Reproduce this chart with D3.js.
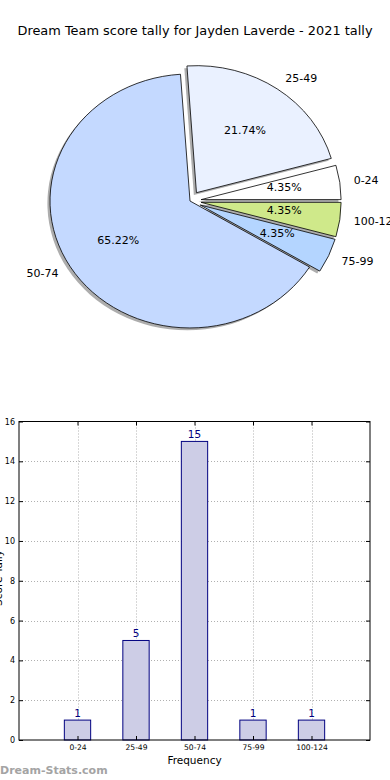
<!DOCTYPE html>
<html>
<head>
<meta charset="utf-8">
<script src="https://cdn.jsdelivr.net/npm/d3@7"></script>
<style>
  html, body { margin: 0; padding: 0; background: #fff; }
  svg { display: block; }
  text { font-family: "DejaVu Sans", sans-serif; }
</style>
</head>
<body>
<svg id="chart" width="390" height="780"></svg>
<script>
// ---------- data ----------
const titleText = "Dream Team score tally for Jayden Laverde - 2021 tally";
const pieLabels = ["0-24", "25-49", "50-74", "75-99", "100-124"];
const pieValues = [1, 5, 15, 1, 1];
const pieColors = ["#ffffff", "#eaf1ff", "#c4d9ff", "#b4d5ff", "#cfe98a"];
const pieExplode = [0.08, 0.08, 0, 0.08, 0.08];

const barCategories = ["0-24", "25-49", "50-74", "75-99", "100-124"];
const barValues = [1, 5, 15, 1, 1];
const yTicks = [0, 2, 4, 6, 8, 10, 12, 14, 16];
const xLabel = "Frequency";
const yLabel = "Score Tally";
const watermark = "Dream-Stats.com";

(function () {
const svg = d3.select("#chart");

svg.append("text")
  .attr("x", 195).attr("y", 35)
  .attr("text-anchor", "middle")
  .attr("font-size", 12.9)
  .attr("fill", "#000")
  .text(titleText);

// ---------- pie (elliptical, matplotlib style) ----------
const cx = 190, cy = 201, rx = 140, ry = 127;
const total = d3.sum(pieValues);
let cum = 0;
const slices = pieValues.map((v, i) => {
  const t0 = cum / total * 2 * Math.PI;
  cum += v;
  const t1 = cum / total * 2 * Math.PI;
  const mid = (t0 + t1) / 2;
  const e = pieExplode[i];
  return {
    i, v, t0, t1, mid,
    ox: cx + e * rx * Math.cos(mid),
    oy: cy - e * ry * Math.sin(mid)
  };
});

const arcGen = d3.arc().innerRadius(0).outerRadius(1);
function arcPath(s) {
  return arcGen({ startAngle: Math.PI / 2 - s.t1, endAngle: Math.PI / 2 - s.t0 });
}

const pieG = svg.append("g");
pieG.selectAll("path.shadow").data(slices).enter().append("path")
  .attr("class", "shadow")
  .attr("d", arcPath)
  .attr("transform", s => `translate(${s.ox - 2.6},${s.oy + 2.4}) scale(${rx},${ry})`)
  .attr("fill", "#6a6a6a")
  .attr("fill-opacity", 0.55)
  .attr("stroke", "none");
pieG.selectAll("path.wedge").data(slices).enter().append("path")
  .attr("class", "wedge")
  .attr("d", arcPath)
  .attr("transform", s => `translate(${s.ox},${s.oy}) scale(${rx},${ry})`)
  .attr("fill", s => pieColors[s.i])
  .attr("stroke", "#000")
  .attr("stroke-width", 0.8)
  .attr("vector-effect", "non-scaling-stroke")
  .attr("stroke-linejoin", "miter");

pieG.selectAll("text.lbl").data(slices).enter().append("text")
  .attr("class", "lbl")
  .attr("x", s => s.ox + 1.1 * rx * Math.cos(s.mid))
  .attr("y", s => s.oy - 1.1 * ry * Math.sin(s.mid))
  .attr("dy", "0.35em")
  .attr("text-anchor", s => Math.cos(s.mid) > 0 ? "start" : "end")
  .attr("font-size", 11)
  .text(s => pieLabels[s.i]);

pieG.selectAll("text.pct").data(slices).enter().append("text")
  .attr("class", "pct")
  .attr("x", s => s.ox + 0.6 * rx * Math.cos(s.mid))
  .attr("y", s => s.oy - 0.6 * ry * Math.sin(s.mid) - (pieExplode[s.i] > 0 && s.v < 2 ? 2.5 : 0))
  .attr("dy", "0.35em")
  .attr("text-anchor", "middle")
  .attr("font-size", 11)
  .text(s => (s.v / total * 100).toFixed(2) + "%");

// ---------- bar chart ----------
const pLeft = 19, pRight = 370, pTop = 421.5, pBottom = 740;
const x = d3.scaleLinear().domain([-1, barCategories.length]).range([pLeft, pRight]);
const y = d3.scaleLinear().domain([0, 16]).range([pBottom, pTop]);
const barW = 0.45;

const bg = svg.append("g");

bg.selectAll("line.gy").data(yTicks.filter(t => t > 0 && t < 16)).enter().append("line")
  .attr("x1", pLeft).attr("x2", pRight)
  .attr("y1", d => Math.round(y(d)) + 0.5).attr("y2", d => Math.round(y(d)) + 0.5)
  .attr("stroke", "#b0b0b0").attr("stroke-width", 1)
  .attr("stroke-dasharray", "1,2");
bg.selectAll("line.gx").data(barCategories).enter().append("line")
  .attr("x1", (d, i) => Math.round(x(i)) + 0.5).attr("x2", (d, i) => Math.round(x(i)) + 0.5)
  .attr("y1", pTop).attr("y2", pBottom)
  .attr("stroke", "#b0b0b0").attr("stroke-width", 1)
  .attr("stroke-dasharray", "1,2");

bg.selectAll("rect.bar").data(barValues).enter().append("rect")
  .attr("x", (d, i) => x(i - barW / 2))
  .attr("y", d => y(d))
  .attr("width", x(barW) - x(0))
  .attr("height", d => y(0) - y(d))
  .attr("fill", "#cdcde6")
  .attr("stroke", "#000080")
  .attr("stroke-width", 1);

bg.selectAll("text.val").data(barValues).enter().append("text")
  .attr("x", (d, i) => x(i))
  .attr("y", d => y(d) - 3.5)
  .attr("text-anchor", "middle")
  .attr("font-size", 10.5)
  .attr("fill", "#000080")
  .text(d => d);

const yAxis = d3.axisLeft(y).tickValues(yTicks).tickSize(-4).tickPadding(4)
  .tickFormat(d3.format("d"));
const yg = bg.append("g").attr("transform", `translate(${pLeft},0)`).call(yAxis);
yg.select(".domain").remove();
yg.selectAll("text").attr("font-size", 8).attr("font-family", "DejaVu Sans, sans-serif");
const yAxisR = d3.axisRight(y).tickValues(yTicks).tickSize(-4).tickFormat("");
const ygr = bg.append("g").attr("transform", `translate(${pRight},0)`).call(yAxisR);
ygr.select(".domain").remove();

const xAxis = d3.axisBottom(x).tickValues(d3.range(barCategories.length))
  .tickSize(-4).tickPadding(5).tickFormat(i => barCategories[i]);
const xg = bg.append("g").attr("transform", `translate(0,${pBottom})`).call(xAxis);
xg.select(".domain").remove();
xg.selectAll("text").attr("font-size", 7.6).attr("font-family", "DejaVu Sans, sans-serif");
const xAxisT = d3.axisTop(x).tickValues(d3.range(barCategories.length)).tickSize(-4).tickFormat("");
const xgt = bg.append("g").attr("transform", `translate(0,${pTop})`).call(xAxisT);
xgt.select(".domain").remove();

bg.append("rect")
  .attr("x", pLeft).attr("y", pTop)
  .attr("width", pRight - pLeft).attr("height", pBottom - pTop)
  .attr("fill", "none").attr("stroke", "#000").attr("stroke-width", 1);

bg.append("text")
  .attr("x", x((barCategories.length - 1) / 2)).attr("y", 764)
  .attr("text-anchor", "middle")
  .attr("font-size", 10.5)
  .text(xLabel);
bg.append("text")
  .attr("transform", `translate(1.5,578) rotate(-90)`)
  .attr("text-anchor", "middle")
  .attr("font-size", 10.5)
  .text(yLabel);

svg.append("text")
  .attr("x", 0).attr("y", 774)
  .attr("font-size", 11)
  .attr("font-weight", "bold")
  .attr("fill", "#a4a4a4")
  .text(watermark);
})();
</script>
</body>
</html>
